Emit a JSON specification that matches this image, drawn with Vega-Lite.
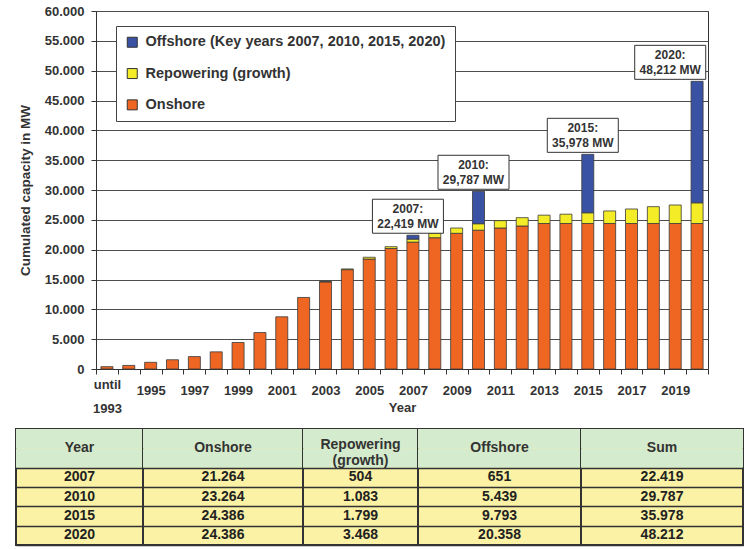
{
  "$schema": "https://vega.github.io/schema/vega-lite/v6.json",
  "background": "white",
  "padding": {"left": 15, "right": 2, "top": 4, "bottom": 4},
  "config": {
    "font": "Liberation Sans",
    "view": {"stroke": "#333", "strokeWidth": 1}
  },
  "datasets": {
    "bars": [
      {"year": "until 1993", "type": "Onshore", "mw": 390},
      {"year": "1994", "type": "Onshore", "mw": 600},
      {"year": "1995", "type": "Onshore", "mw": 1120},
      {"year": "1996", "type": "Onshore", "mw": 1550},
      {"year": "1997", "type": "Onshore", "mw": 2080},
      {"year": "1998", "type": "Onshore", "mw": 2875},
      {"year": "1999", "type": "Onshore", "mw": 4440},
      {"year": "2000", "type": "Onshore", "mw": 6110},
      {"year": "2001", "type": "Onshore", "mw": 8750},
      {"year": "2002", "type": "Onshore", "mw": 11990},
      {"year": "2003", "type": "Onshore", "mw": 14600},
      {"year": "2003", "type": "Repowering", "mw": 60},
      {"year": "2004", "type": "Onshore", "mw": 16650},
      {"year": "2004", "type": "Repowering", "mw": 120},
      {"year": "2005", "type": "Onshore", "mw": 18430},
      {"year": "2005", "type": "Repowering", "mw": 300},
      {"year": "2006", "type": "Onshore", "mw": 20200},
      {"year": "2006", "type": "Repowering", "mw": 300},
      {"year": "2007", "type": "Onshore", "mw": 21264},
      {"year": "2007", "type": "Repowering", "mw": 504},
      {"year": "2007", "type": "Offshore", "mw": 651},
      {"year": "2008", "type": "Onshore", "mw": 22000},
      {"year": "2008", "type": "Repowering", "mw": 740},
      {"year": "2009", "type": "Onshore", "mw": 22740},
      {"year": "2009", "type": "Repowering", "mw": 890},
      {"year": "2010", "type": "Onshore", "mw": 23264},
      {"year": "2010", "type": "Repowering", "mw": 1083},
      {"year": "2010", "type": "Offshore", "mw": 5439},
      {"year": "2011", "type": "Onshore", "mw": 23630},
      {"year": "2011", "type": "Repowering", "mw": 1230},
      {"year": "2012", "type": "Onshore", "mw": 23970},
      {"year": "2012", "type": "Repowering", "mw": 1390},
      {"year": "2013", "type": "Onshore", "mw": 24386},
      {"year": "2013", "type": "Repowering", "mw": 1400},
      {"year": "2014", "type": "Onshore", "mw": 24386},
      {"year": "2014", "type": "Repowering", "mw": 1560},
      {"year": "2015", "type": "Onshore", "mw": 24386},
      {"year": "2015", "type": "Repowering", "mw": 1799},
      {"year": "2015", "type": "Offshore", "mw": 9793},
      {"year": "2016", "type": "Onshore", "mw": 24386},
      {"year": "2016", "type": "Repowering", "mw": 2100},
      {"year": "2017", "type": "Onshore", "mw": 24386},
      {"year": "2017", "type": "Repowering", "mw": 2430},
      {"year": "2018", "type": "Onshore", "mw": 24386},
      {"year": "2018", "type": "Repowering", "mw": 2820},
      {"year": "2019", "type": "Onshore", "mw": 24386},
      {"year": "2019", "type": "Repowering", "mw": 3100},
      {"year": "2020", "type": "Onshore", "mw": 24386},
      {"year": "2020", "type": "Repowering", "mw": 3468},
      {"year": "2020", "type": "Offshore", "mw": 20358}
    ],
    "notes": [
      {"key": "2007", "at": "2007", "total": 22419, "label": "2007:\n22,419 MW"},
      {"key": "2010", "at": "2010", "total": 29787, "label": "2010:\n29,787 MW"},
      {"key": "2015", "at": "2015", "total": 35978, "label": "2015:\n35,978 MW"},
      {"key": "2020", "at": "2019", "total": 48212, "label": "2020:\n48,212 MW"}
    ],
    "table": [
      {"Year": "2007", "Onshore": "21.264", "Repowering": "504", "Offshore": "651", "Sum": "22.419"},
      {"Year": "2010", "Onshore": "23.264", "Repowering": "1.083", "Offshore": "5.439", "Sum": "29.787"},
      {"Year": "2015", "Onshore": "24.386", "Repowering": "1.799", "Offshore": "9.793", "Sum": "35.978"},
      {"Year": "2020", "Onshore": "24.386", "Repowering": "3.468", "Offshore": "20.358", "Sum": "48.212"}
    ],
    "headerBand": [{"row": "head"}, {"row": "title"}]
  },
  "spacing": 12,
  "vconcat": [
    {
      "spacing": 0,
      "hconcat": [
        {
          "width": 1, "height": 10, "view": {"stroke": null},
          "data": {"values": [{"s": ""}]},
          "mark": {"type": "text"},
          "encoding": {"text": {"field": "s"}}
        },
        {
          "width": 612,
          "height": 358,
          "encoding": {
            "x": {
              "type": "ordinal",
              "scale": {
                "domain": ["until 1993", "1994", "1995", "1996", "1997", "1998", "1999", "2000", "2001", "2002", "2003", "2004", "2005", "2006", "2007", "2008", "2009", "2010", "2011", "2012", "2013", "2014", "2015", "2016", "2017", "2018", "2019", "2020"],
                "paddingInner": 0,
                "paddingOuter": 0
              },
              "axis": {
                "title": "Year",
                "tickBand": "extent",
                "tickSize": 5,
                "tickColor": "#333",
                "domainColor": "#333",
                "labelAngle": 0,
                "labelFontSize": 13,
                "labelFontWeight": "bold",
                "labelColor": "#333",
                "labelPadding": 4,
                "labelLineHeight": 24,
                "labelOverlap": false,
                "labelBound": false,
                "labelBaseline": {"condition": {"test": "datum.value == 'until 1993'", "value": "top"}, "value": "line-top"},
                "labelExpr": "datum.value == 'until 1993' ? ['until', '1993'] : (toNumber(datum.value) % 2 == 1 ? datum.value : '')",
                "titleFontSize": 13,
                "titleFontWeight": "bold",
                "titleColor": "#333",
                "titleY": 32,
                "titleBaseline": "top"
              }
            },
            "y": {
              "type": "quantitative",
              "scale": {"domain": [0, 60000], "nice": false},
              "axis": {
                "title": "Cumulated capacity in MW",
                "values": [0, 5000, 10000, 15000, 20000, 25000, 30000, 35000, 40000, 45000, 50000, 55000, 60000],
                "labelExpr": "replace(format(datum.value, ','), ',', '.')",
                "labelOverlap": false,
                "grid": true,
                "gridColor": "#4d4d4d",
                "gridWidth": 1,
                "domainColor": "#333",
                "tickColor": "#333",
                "tickSize": 5,
                "labelPadding": 7,
                "labelFontSize": 13,
                "labelFontWeight": "bold",
                "labelColor": "#333",
                "titleFontSize": 13.5,
                "titleFontWeight": "bold",
                "titleColor": "#333",
                "titlePadding": 12
              }
            }
          },
          "layer": [
            {
              "data": {"name": "bars"},
              "transform": [
                {"calculate": "indexof(['Onshore', 'Repowering', 'Offshore'], datum.type)", "as": "stackOrder"}
              ],
              "mark": {"type": "bar", "width": {"band": 0.55}, "stroke": "#3a3a3a", "strokeWidth": 0.8},
              "encoding": {
                "x": {"field": "year"},
                "y": {"field": "mw", "stack": "zero"},
                "order": {"field": "stackOrder", "type": "quantitative", "sort": "ascending"},
                "color": {
                  "field": "type",
                  "type": "nominal",
                  "sort": ["Onshore", "Repowering", "Offshore"],
                  "scale": {"range": ["#ef6623", "#f4ec27", "#3a52a3"]},
                  "legend": {
                    "orient": "none",
                    "legendX": 100,
                    "legendY": 15,
                    "title": null,
                    "values": ["Offshore", "Repowering", "Onshore"],
                    "labelExpr": "datum.label == 'Offshore' ? 'Offshore (Key years 2007, 2010, 2015, 2020)' : datum.label == 'Repowering' ? 'Repowering (growth)' : datum.label",
                    "fillColor": "white",
                    "strokeColor": "#444",
                    "padding": 9,
                    "rowPadding": 15.3,
                    "labelFontSize": 14.5,
                    "labelFontWeight": "bold",
                    "labelColor": "#333",
                    "labelLimit": 500,
                    "labelOffset": 6,
                    "symbolType": "square",
                    "symbolSize": 100,
                    "symbolStrokeColor": "#333",
                    "symbolStrokeWidth": 1
                  }
                }
              }
            },
            {
              "data": {"name": "notes"},
              "mark": {"type": "point", "shape": "M-1,-0.479L1,-0.479L1,0.479L-1,0.479Z", "size": 5041, "filled": true, "fill": "white", "stroke": "#333", "strokeWidth": 1, "opacity": 1, "yOffset": -19, "xOffset": -5},
              "encoding": {
                "x": {"field": "at"},
                "y": {"field": "total"}
              }
            },
            {
              "data": {"name": "notes"},
              "mark": {"type": "text", "lineBreak": "\n", "fontSize": 12, "fontWeight": "bold", "color": "#333", "lineHeight": 14.5, "yOffset": -26, "xOffset": -5},
              "encoding": {
                "x": {"field": "at"},
                "y": {"field": "total"},
                "text": {"field": "label"}
              }
            }
          ]
        }
      ]
    },
    {
      "spacing": 0,
      "bounds": "flush",
      "hconcat": [
        {
          "width": 127, "height": 116,
          "view": {"fill": "#fbf2a5", "stroke": "#333", "strokeWidth": 2},
          "encoding": {"y": {"type": "ordinal", "scale": {"domain": ["head", "title", "2007", "2010", "2015", "2020"], "paddingInner": 0, "paddingOuter": 0}, "axis": {"title": null, "labels": false, "ticks": false, "domain": false, "grid": true, "tickBand": "extent", "values": ["2007", "2010", "2015", "2020"], "gridColor": "#333", "gridWidth": 1.5, "zindex": 1}}},
          "layer": [
            {"data": {"name": "headerBand"}, "mark": {"type": "rect", "fill": "#d5ebcd"}, "encoding": {"y": {"field": "row"}}},
            {"data": {"values": [{"row": "head", "h": "Year"}]}, "mark": {"type": "text", "fontSize": 14, "fontWeight": "bold", "color": "#333"}, "encoding": {"y": {"field": "row", "bandPosition": 1}, "text": {"field": "h"}}},
            {"data": {"name": "table"}, "mark": {"type": "text", "fontSize": 14, "fontWeight": "bold", "color": "#222"}, "encoding": {"y": {"field": "Year"}, "text": {"field": "Year"}}}
          ]
        },
        {
          "width": 160, "height": 116,
          "view": {"fill": "#fbf2a5", "stroke": "#333", "strokeWidth": 2},
          "encoding": {"y": {"type": "ordinal", "scale": {"domain": ["head", "title", "2007", "2010", "2015", "2020"], "paddingInner": 0, "paddingOuter": 0}, "axis": {"title": null, "labels": false, "ticks": false, "domain": false, "grid": true, "tickBand": "extent", "values": ["2007", "2010", "2015", "2020"], "gridColor": "#333", "gridWidth": 1.5, "zindex": 1}}},
          "layer": [
            {"data": {"name": "headerBand"}, "mark": {"type": "rect", "fill": "#d5ebcd"}, "encoding": {"y": {"field": "row"}}},
            {"data": {"values": [{"row": "head", "h": "Onshore"}]}, "mark": {"type": "text", "fontSize": 14, "fontWeight": "bold", "color": "#333"}, "encoding": {"y": {"field": "row", "bandPosition": 1}, "text": {"field": "h"}}},
            {"data": {"name": "table"}, "mark": {"type": "text", "fontSize": 14, "fontWeight": "bold", "color": "#222"}, "encoding": {"y": {"field": "Year"}, "text": {"field": "Onshore"}}}
          ]
        },
        {
          "width": 115, "height": 116,
          "view": {"fill": "#fbf2a5", "stroke": "#333", "strokeWidth": 2},
          "encoding": {"y": {"type": "ordinal", "scale": {"domain": ["head", "title", "2007", "2010", "2015", "2020"], "paddingInner": 0, "paddingOuter": 0}, "axis": {"title": null, "labels": false, "ticks": false, "domain": false, "grid": true, "tickBand": "extent", "values": ["2007", "2010", "2015", "2020"], "gridColor": "#333", "gridWidth": 1.5, "zindex": 1}}},
          "layer": [
            {"data": {"name": "headerBand"}, "mark": {"type": "rect", "fill": "#d5ebcd"}, "encoding": {"y": {"field": "row"}}},
            {"data": {"values": [{"row": "head", "h": "Repowering\n(growth)"}]}, "mark": {"type": "text", "fontSize": 14, "fontWeight": "bold", "color": "#333", "lineBreak": "\n", "lineHeight": 16, "dy": -3.5}, "encoding": {"y": {"field": "row", "bandPosition": 1}, "text": {"field": "h"}}},
            {"data": {"name": "table"}, "mark": {"type": "text", "fontSize": 14, "fontWeight": "bold", "color": "#222"}, "encoding": {"y": {"field": "Year"}, "text": {"field": "Repowering"}}}
          ]
        },
        {
          "width": 163, "height": 116,
          "view": {"fill": "#fbf2a5", "stroke": "#333", "strokeWidth": 2},
          "encoding": {"y": {"type": "ordinal", "scale": {"domain": ["head", "title", "2007", "2010", "2015", "2020"], "paddingInner": 0, "paddingOuter": 0}, "axis": {"title": null, "labels": false, "ticks": false, "domain": false, "grid": true, "tickBand": "extent", "values": ["2007", "2010", "2015", "2020"], "gridColor": "#333", "gridWidth": 1.5, "zindex": 1}}},
          "layer": [
            {"data": {"name": "headerBand"}, "mark": {"type": "rect", "fill": "#d5ebcd"}, "encoding": {"y": {"field": "row"}}},
            {"data": {"values": [{"row": "head", "h": "Offshore"}]}, "mark": {"type": "text", "fontSize": 14, "fontWeight": "bold", "color": "#333"}, "encoding": {"y": {"field": "row", "bandPosition": 1}, "text": {"field": "h"}}},
            {"data": {"name": "table"}, "mark": {"type": "text", "fontSize": 14, "fontWeight": "bold", "color": "#222"}, "encoding": {"y": {"field": "Year"}, "text": {"field": "Offshore"}}}
          ]
        },
        {
          "width": 162, "height": 116,
          "view": {"fill": "#fbf2a5", "stroke": "#333", "strokeWidth": 2},
          "encoding": {"y": {"type": "ordinal", "scale": {"domain": ["head", "title", "2007", "2010", "2015", "2020"], "paddingInner": 0, "paddingOuter": 0}, "axis": {"title": null, "labels": false, "ticks": false, "domain": false, "grid": true, "tickBand": "extent", "values": ["2007", "2010", "2015", "2020"], "gridColor": "#333", "gridWidth": 1.5, "zindex": 1}}},
          "layer": [
            {"data": {"name": "headerBand"}, "mark": {"type": "rect", "fill": "#d5ebcd"}, "encoding": {"y": {"field": "row"}}},
            {"data": {"values": [{"row": "head", "h": "Sum"}]}, "mark": {"type": "text", "fontSize": 14, "fontWeight": "bold", "color": "#333"}, "encoding": {"y": {"field": "row", "bandPosition": 1}, "text": {"field": "h"}}},
            {"data": {"name": "table"}, "mark": {"type": "text", "fontSize": 14, "fontWeight": "bold", "color": "#222"}, "encoding": {"y": {"field": "Year"}, "text": {"field": "Sum"}}}
          ]
        }
      ]
    }
  ]
}
